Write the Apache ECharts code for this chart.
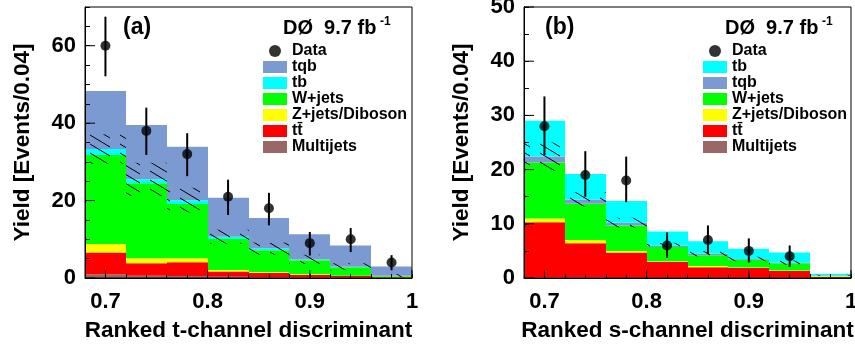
<!DOCTYPE html>
<html>
<head>
<meta charset="utf-8">
<script src="https://cdn.jsdelivr.net/npm/echarts@6/dist/echarts.min.js"></script>
<style>
  html, body { margin: 0; padding: 0; background: #fff; }
  #main { width: 855px; height: 351px; }
</style>
</head>
<body>
<div id="main"></div>
<script>
// bins of the ranked discriminant (width 0.04)
const binEdges = [0.68, 0.72, 0.76, 0.80, 0.84, 0.88, 0.92, 0.96, 1.00];
const binCenters = [0.70, 0.74, 0.78, 0.82, 0.86, 0.90, 0.94, 0.98];
const xMajor = [0.7, 0.8, 0.9, 1.0];

// (a) t-channel, stacked bottom -> top
const multijetsA = [0.9, 0.6, 0.5, 0.3, 0.2, 0.15, 0.1, 0.05];
const ttbarA = [5.7, 3.2, 3.6, 1.4, 1.1, 0.65, 0.4, 0.15];
const zjetsA = [2.2, 1.3, 1.0, 0.35, 0.2, 0.15, 0.1, 0.1];
const wjetsA = [23.0, 19.4, 14.0, 8.0, 5.7, 3.65, 2.15, 0.2];
const tbA = [1.5, 1.0, 1.0, 0.6, 0.4, 0.2, 0.15, 0.1];
const tqbA = [15.0, 14.0, 13.8, 10.1, 7.9, 6.5, 5.5, 2.4];
const uncA = [3.8, 4.3, 3.2, 1.8, 1.6, 1.2, 0.9, 0.4];
const dataA = [60, 38, 32, 21, 18, 9, 10, 4];
const dataLoA = [52.1, 31.8, 26.3, 16.3, 13.6, 5.8, 6.7, 2.0];
const dataHiA = [67.5, 44.0, 37.4, 25.4, 22.0, 11.9, 12.9, 5.9];
const yMajorA = [0, 20, 40, 60];

// (b) s-channel, stacked bottom -> top
const multijetsB = [0.1, 0.1, 0.05, 0.05, 0.05, 0.05, 0.05, 0.05];
const ttbarB = [10.2, 6.3, 4.65, 2.95, 1.95, 1.8, 1.25, 0.15];
const zjetsB = [0.7, 0.6, 0.3, 0.1, 0.2, 0.1, 0.1, 0.1];
const wjetsB = [10.3, 6.7, 4.7, 2.6, 2.0, 1.4, 1.3, 0.1];
const tqbB = [1.1, 0.8, 0.5, 0.3, 0.3, 0.15, 0.15, 0.1];
const tbB = [6.6, 4.7, 4.0, 2.6, 2.3, 1.9, 1.85, 0.3];
const uncB = [2.6, 1.3, 0.9, 0.5, 0.5, 0.4, 0.4, 0.1];
const dataB = [28, 19, 18, 6, 7, 5, 4];
const dataLoB = [22.7, 15.0, 14.0, 3.7, 4.4, 2.85, 2.05];
const dataHiB = [33.5, 23.4, 22.4, 8.4, 9.7, 7.3, 6.0];
const yMajorB = [0, 10, 20, 30, 40, 50];

const TT = 'tt\u0304';
const colors = {
  'tqb': '#7b9ad2',
  'tb': '#00ffff',
  'W+jets': '#00ff00',
  'Z+jets/Diboson': '#ffff00',
  [TT]: '#ff0000',
  'Multijets': '#9a6767'
};
const FONT = "'Liberation Sans', Arial, Helvetica, sans-serif";

// hatch tile for the uncertainty band: broken lines sloping down to the right
const hatch = document.createElement('canvas');
hatch.width = 30; hatch.height = 9;
const g = hatch.getContext('2d');
g.strokeStyle = '#000'; g.lineWidth = 1;
[-30, 0, 30].forEach(dx => [-18, -9, 0, 9, 18].forEach(dy => {
  g.beginPath(); g.moveTo(dx, dy); g.lineTo(dx + 20, dy + 12); g.stroke();
}));

function rectShape(api) {
  const p0 = api.coord([api.value(0), api.value(3)]);
  const p1 = api.coord([api.value(1), api.value(2)]);
  const x0 = Math.round(p0[0]), x1 = Math.round(p1[0]);
  return { x: x0, y: p0[1], width: x1 - x0, height: p1[1] - p0[1] };
}

function buildPanel(idx, layers, names, unc, vals, lo, hi, yMajor) {
  const out = [];
  const cum = binCenters.map(() => 0);
  const tops = [];
  layers.forEach((layer, li) => {
    const data = layer.map((v, i) => {
      const base = cum[i];
      cum[i] += v;
      return [binEdges[i], binEdges[i + 1], base, cum[i]];
    });
    tops.push(cum.slice());
    out.push({
      type: 'custom', name: names[li], xAxisIndex: idx, yAxisIndex: idx,
      itemStyle: { color: colors[names[li]] }, encode: { x: [0, 1], y: [2, 3] },
      clip: true, silent: true, data,
      renderItem: (params, api) => ({ type: 'rect', shape: rectShape(api), style: { fill: api.visual('color') } })
    });
  });
  // hatched band around everything but the top layer
  const centre = tops[layers.length - 2];
  out.push({
    type: 'custom', name: 'unc', xAxisIndex: idx, yAxisIndex: idx,
    encode: { x: [0, 1], y: [2, 3] }, clip: true, silent: true,
    data: centre.map((c, i) => [binEdges[i], binEdges[i + 1], c - unc[i], c + unc[i]]),
    renderItem: (params, api) => ({ type: 'rect', shape: rectShape(api), style: { fill: { image: hatch, repeat: 'repeat' } } })
  });
  out.push({
    type: 'custom', name: 'err', xAxisIndex: idx, yAxisIndex: idx,
    encode: { x: 0, y: [1, 2] }, silent: true,
    data: vals.map((v, i) => [binCenters[i], lo[i], hi[i]]),
    renderItem: (params, api) => {
      const a = api.coord([api.value(0), api.value(1)]);
      const b = api.coord([api.value(0), api.value(2)]);
      return { type: 'line', shape: { x1: a[0], y1: a[1], x2: b[0], y2: b[1] }, style: { stroke: '#000', lineWidth: 2 } };
    }
  });
  out.push({
    type: 'scatter', name: 'Data', xAxisIndex: idx, yAxisIndex: idx,
    symbol: 'circle', symbolSize: 10, itemStyle: { color: '#000' }, silent: true,
    data: vals.map((v, i) => [binCenters[i], v])
  });
  // long major ticks
  out.push({
    type: 'custom', name: 'xmajor', xAxisIndex: idx, yAxisIndex: idx, silent: true, z: 12,
    data: xMajor.map(v => [v, 0]),
    renderItem: (params, api) => {
      const p = api.coord([api.value(0), api.value(1)]);
      return { type: 'line', shape: { x1: p[0], y1: p[1], x2: p[0], y2: p[1] - 8 }, style: { stroke: '#000', lineWidth: 1 } };
    }
  });
  out.push({
    type: 'custom', name: 'ymajor', xAxisIndex: idx, yAxisIndex: idx, silent: true, z: 12,
    data: yMajor.map(v => [binEdges[0], v]),
    renderItem: (params, api) => {
      const p = api.coord([api.value(0), api.value(1)]);
      return { type: 'line', shape: { x1: p[0], y1: p[1], x2: p[0] + 10, y2: p[1] }, style: { stroke: '#000', lineWidth: 1 } };
    }
  });
  return out;
}

const namesA = ['Multijets', TT, 'Z+jets/Diboson', 'W+jets', 'tb', 'tqb'];
const namesB = ['Multijets', TT, 'Z+jets/Diboson', 'W+jets', 'tqb', 'tb'];
const legendA = ['Data', 'tqb', 'tb', 'W+jets', 'Z+jets/Diboson', TT, 'Multijets'];
const legendB = ['Data', 'tb', 'tqb', 'W+jets', 'Z+jets/Diboson', TT, 'Multijets'];

const series = [].concat(
  buildPanel(0, [multijetsA, ttbarA, zjetsA, wjetsA, tbA, tqbA], namesA, uncA, dataA, dataLoA, dataHiA, yMajorA),
  buildPanel(1, [multijetsB, ttbarB, zjetsB, wjetsB, tqbB, tbB], namesB, uncB, dataB, dataLoB, dataHiB, yMajorB)
);

function xAxis(idx, title) {
  return {
    type: 'value', gridIndex: idx, min: 0.68, max: 1.0, interval: 0.02, z: 11,
    name: title, nameLocation: 'middle', nameGap: 41,
    nameTextStyle: { fontSize: 22.5, fontWeight: 'bold', color: '#000', fontFamily: FONT },
    axisLine: { lineStyle: { color: '#000', width: 1 } },
    axisTick: { inside: true, length: 4, lineStyle: { color: '#000' } },
    splitLine: { show: false },
    axisLabel: {
      margin: 13, fontSize: 22, fontWeight: 'bold', color: '#000', fontFamily: FONT,
      formatter: v => Math.abs(v * 10 - Math.round(v * 10)) < 1e-6 ? (Math.round(v * 10) === 10 ? '1' : v.toFixed(1)) : ''
    }
  };
}
function yAxis(idx, max, step) {
  return {
    type: 'value', gridIndex: idx, min: 0, max: max, interval: 5, z: 11,
    name: 'Yield [Events/0.04]', nameLocation: 'middle', nameGap: 51,
    nameTextStyle: { fontSize: 22.5, fontWeight: 'bold', color: '#000', fontFamily: FONT },
    axisLine: { lineStyle: { color: '#000', width: 1 } },
    axisTick: { inside: true, length: 5, lineStyle: { color: '#000' } },
    splitLine: { show: false },
    axisLabel: {
      margin: 9, fontSize: 22, fontWeight: 'bold', color: '#000', fontFamily: FONT,
      formatter: v => (Math.round(v) % step === 0 ? String(Math.round(v)) : '')
    }
  };
}
function legend(left, names) {
  return {
    left: left, top: 43, orient: 'vertical', padding: 0,
    itemWidth: 24, itemHeight: 12, itemGap: 0, selectedMode: false,
    textStyle: { fontSize: 16, fontWeight: 'bold', color: '#000', fontFamily: FONT },
    data: names.map(n => ({ name: n, icon: n === 'Data' ? 'circle' : 'rect' }))
  };
}
function label(x, y, text, size) {
  return { type: 'text', x: x, y: y, z: 20,
    style: { text: text, font: 'bold ' + size + 'px ' + FONT, fill: '#000', verticalAlign: 'middle' } };
}

const chart = echarts.init(document.getElementById('main'), null, { renderer: 'canvas' });
chart.setOption({
  animation: false,
  backgroundColor: '#fff',
  grid: [
    { left: 85, top: 7, width: 327, height: 271, show: true, borderColor: '#000', borderWidth: 1, backgroundColor: 'transparent', z: 10, outerBoundsMode: 'none' },
    { left: 524, top: 7, width: 327, height: 271, show: true, borderColor: '#000', borderWidth: 1, backgroundColor: 'transparent', z: 10, outerBoundsMode: 'none' }
  ],
  xAxis: [xAxis(0, 'Ranked t-channel discriminant'), xAxis(1, 'Ranked s-channel discriminant')],
  yAxis: [yAxis(0, 70, 20), yAxis(1, 50, 10)],
  legend: [legend(263, legendA), legend(703, legendB)],
  graphic: [
    label(123, 28, '(a)', 23),
    label(283, 28, 'D\u00d8  9.7 fb', 20),
    label(380, 22, '-1', 12),
    label(545, 28, '(b)', 23),
    label(725, 28, 'D\u00d8  9.7 fb', 20),
    label(822, 22, '-1', 12)
  ],
  series: series
});
</script>
</body>
</html>
